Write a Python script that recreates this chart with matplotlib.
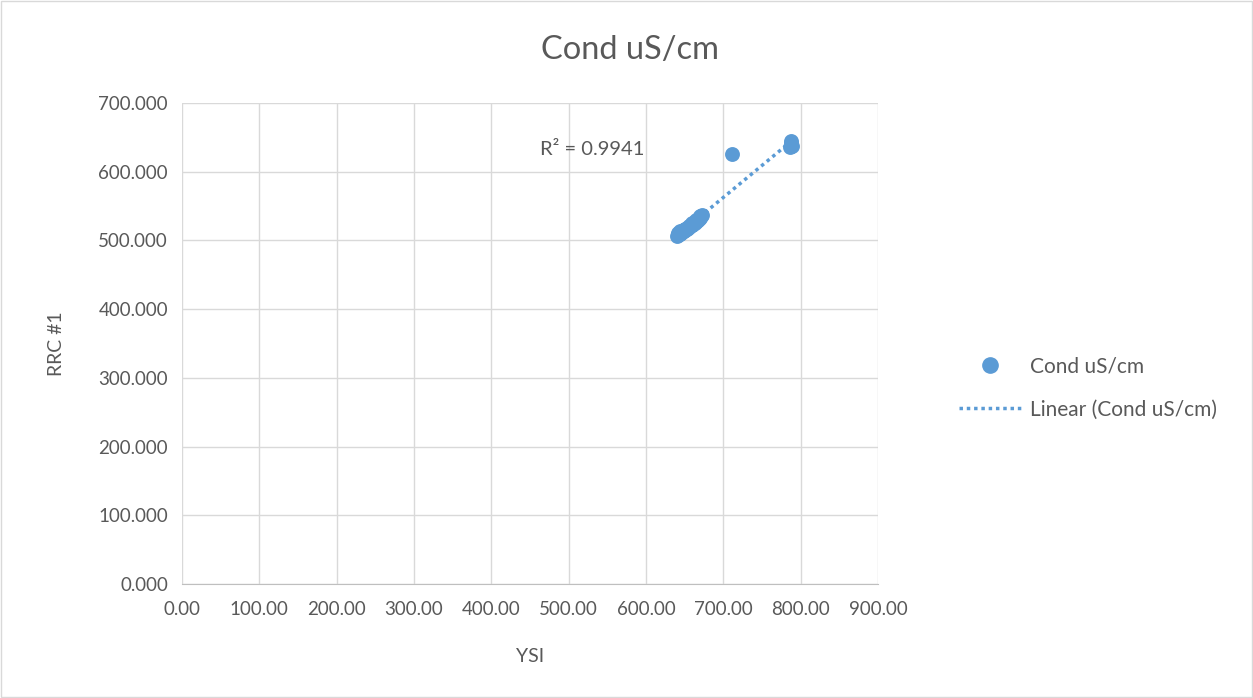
import numpy as np
import matplotlib
matplotlib.use("Agg")
import matplotlib.pyplot as plt
from matplotlib.lines import Line2D

# data
ysi = [640, 641, 642, 643, 644, 645, 646, 647, 648, 649, 650, 651, 652, 653, 654,
       655, 656, 657, 658, 659, 660, 661, 662, 663, 664, 665, 666, 667, 668, 669,
       670, 671, 672, 642, 644, 646, 650, 655, 660, 665, 670,
       711, 786, 787, 788, 788, 789]
rrc = [507, 508, 509, 509, 510, 511, 512, 512, 513, 514, 515, 516, 516, 517, 518,
       519, 520, 521, 522, 522, 523, 524, 525, 526, 527, 528, 529, 530, 531, 532,
       533, 535, 537, 511, 513, 514, 517, 521, 525, 530, 536,
       626, 636, 639, 642, 645, 638]

title = "Cond uS/cm"
series_name = "Cond uS/cm"
xlabel = "YSI"
ylabel = "RRC #1"

plt.rcParams['font.family'] = ['Lato', 'DejaVu Sans']
blue = "#5b9bd5"
grey = "#595959"

fig = plt.figure(figsize=(12.53, 6.98), dpi=100)
fig.patches.append(plt.Rectangle((0.001, 0.001), 0.998, 0.997, transform=fig.transFigure,
                                 fill=False, edgecolor="#d9d9d9", linewidth=1))
W, H = 1253, 698
ax = fig.add_axes([182 / W, 1 - 584 / H, (878 - 182) / W, (584 - 103) / H])

x = np.array(ysi, dtype=float)
y = np.array(rrc, dtype=float)
ax.scatter(x, y, s=115, color=blue, zorder=3, linewidths=0)

coef = np.polyfit(x, y, 1)
xf = np.array([x.min(), x.max()])
dots = (0, (1, 1.1))
ax.plot(xf, np.polyval(coef, xf), linestyle=dots, color=blue, linewidth=2.5, zorder=4)

ax.text(531, 632, "R² = 0.9941", fontsize=14.5, color=grey, ha="center", va="center")

ax.set_xlim(0, 900)
ax.set_ylim(0, 700)
ax.set_xticks(np.arange(0, 901, 100))
ax.set_yticks(np.arange(0, 701, 100))
ax.set_xticklabels([f"{v:.2f}" for v in np.arange(0, 901, 100)])
ax.set_yticklabels([f"{v:.3f}" for v in np.arange(0, 701, 100)])
ax.grid(True, color="#d9d9d9", linewidth=1)
ax.set_axisbelow(True)
for s in ["top", "right", "left"]:
    ax.spines[s].set_visible(False)
ax.spines["bottom"].set_color("#bfbfbf")
ax.tick_params(axis="both", colors=grey, labelsize=13.5, length=0, pad=10)
ax.tick_params(axis="x", pad=12)
ax.set_xlabel(xlabel, fontsize=14, color=grey, labelpad=22)
ax.set_ylabel(ylabel, fontsize=14, color=grey, labelpad=24)
fig.text(630 / W, 1 - 50 / H, title, fontsize=23.5, color=grey, ha="center", va="center")

handles = [Line2D([], [], marker="o", linestyle="none", color=blue, markersize=11),
           Line2D([], [], linestyle=dots, color=blue, linewidth=2.5)]
leg = fig.legend(handles, [series_name, f"Linear ({series_name})"],
                 loc="center left", bbox_to_anchor=(940 / W, 1 - 388 / H),
                 frameon=False, fontsize=15, labelspacing=1.1, handlelength=3.0, handletextpad=0.4)
for t in leg.get_texts():
    t.set_color(grey)

fig.savefig("out.png", dpi=100)
